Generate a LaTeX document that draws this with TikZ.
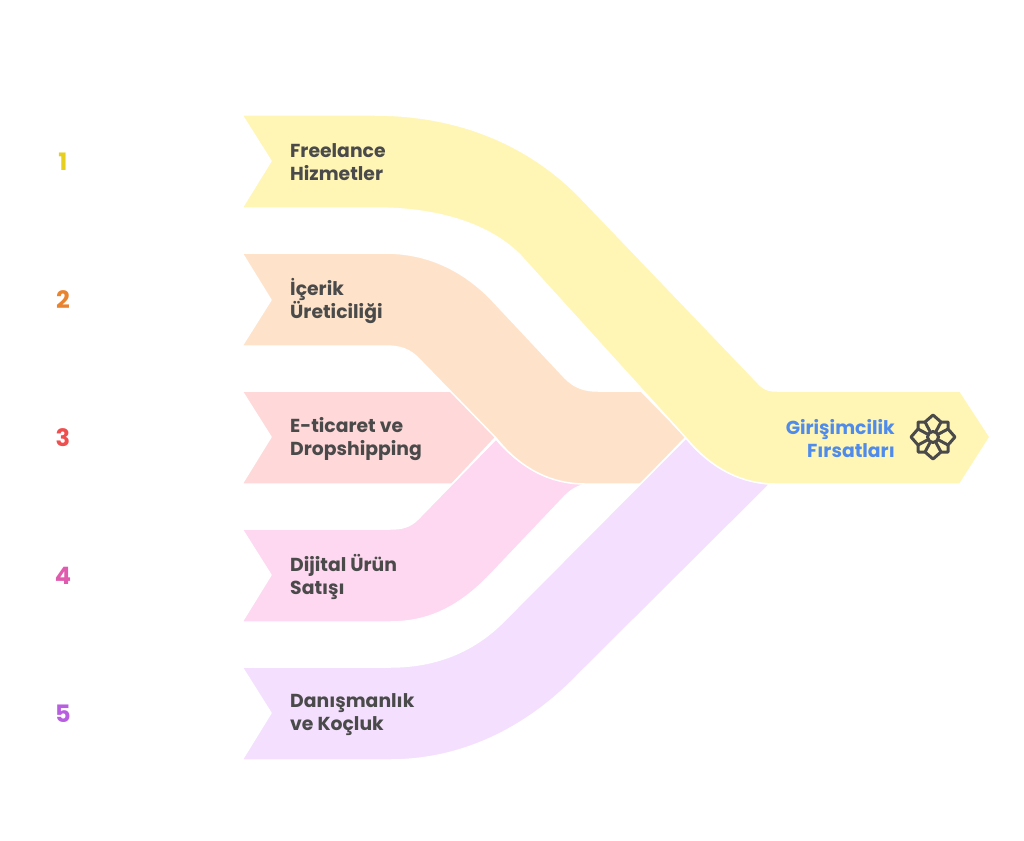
\documentclass[tikz,border=0pt]{standalone}
\usepackage{fontspec}
\setmainfont{Poppins}
\usetikzlibrary{positioning}
\definecolor{bandyellow}{HTML}{FFF6B6}
\definecolor{bandpeach}{HTML}{FEE3CA}
\definecolor{bandred}{HTML}{FFD9D9}
\definecolor{bandpink}{HTML}{FED7F0}
\definecolor{bandpurple}{HTML}{F4E0FE}
\definecolor{textgrey}{HTML}{4A4A4A}
\definecolor{textblue}{HTML}{4F8BEA}
\definecolor{numyellow}{HTML}{E6CF1E}
\definecolor{numorange}{HTML}{E8832E}
\definecolor{numred}{HTML}{EE4F4F}
\definecolor{numpink}{HTML}{E05AAE}
\definecolor{numpurple}{HTML}{B85EE0}
\tikzset{bandlabel/.style={anchor=west, align=left, inner sep=0pt, text=textgrey, font=\fontsize{18.8}{23}\selectfont\bfseries},
  numlabel/.style={inner sep=0pt, font=\fontsize{24}{26}\selectfont\bfseries},
  bandshape/.style={draw=white, line width=1.5pt, line join=round},
  rosette/.style={draw=textgrey, line width=3pt, line join=round},}

\begin{document}
\begin{tikzpicture}[x=1pt, y=-1pt]
\useasboundingbox (0,0) rectangle (1024,840);
% bands
\path[bandshape, fill=bandred] (242,391) -- (452,391) -- (496,437) -- (452,484) -- (242,484) -- (271,437) -- cycle;
\path[bandshape, fill=bandpink] (242,529) -- (390,529) .. controls (402,529) and (410,527) .. (418,519) -- (496,439) .. controls (520,468) and (550,481) .. (587,484) .. controls (578,486) and (572,489) .. (565,496) -- (490,575) .. controls (460,606) and (430,622) .. (390,622) -- (242,622) -- (271,575) -- cycle;
\path[bandshape, fill=bandpeach] (242,253) -- (385,253) .. controls (425,253) and (460,268) .. (490,298) -- (565,378) .. controls (575,388) and (585,391) .. (598,391) -- (641,391) -- (686,437) -- (641,484) -- (585,484) .. controls (550,484) and (520,468) .. (496,438) -- (420,360) .. controls (410,349) and (400,346) .. (385,346) -- (242,346) -- (271,300) -- cycle;
\path[bandshape, fill=bandpurple] (242,667) -- (390,667) .. controls (435,667) and (473,652) .. (503,622) -- (686,438) .. controls (710,467) and (738,481) .. (770,484) -- (578,675) .. controls (525,730) and (460,760) .. (390,760) -- (242,760) -- (271,713) -- cycle;
\path[bandshape, fill=bandyellow] (242,115) -- (375,115) .. controls (455,115) and (525,142) .. (578,195) -- (760,385) .. controls (765,390) and (770,391) .. (777,391) -- (960,391) -- (990,437) -- (960,484) -- (775,484) .. controls (740,484) and (710,467) .. (686,438) -- (520,255) .. controls (490,225) and (440,208) .. (375,208) -- (242,208) -- (271,161) -- cycle;
% numbers
\node[numlabel, text=numyellow] (num1) at (63,162) {1};
\node[numlabel, text=numorange] (num2) at (63,300) {2};
\node[numlabel, text=numred] (num3) at (63,438) {3};
\node[numlabel, text=numpink] (num4) at (63,576) {4};
\node[numlabel, text=numpurple] (num5) at (63,714) {5};
% labels
\node[bandlabel] (freelance) at (290,162) {Freelance\\Hizmetler};
\node[bandlabel] (icerik) at (290,301) {İçerik\\Üreticiliği};
\node[bandlabel] (eticaret) at (290,439) {E-ticaret ve\\Dropshipping};
\node[bandlabel] (dijital) at (290,577) {Dijital Ürün\\Satışı};
\node[bandlabel] (danisman) at (290,715) {Danışmanlık\\ve Koçluk};
\node[bandlabel, anchor=east, align=right, text=textblue] (girisim) at (895,439) {Girişimcilik\\Fırsatları};
% rosette
\coordinate (rose) at (933,437);
\foreach \px/\py in {8/15,15/8,15/-8,8/-15,-8/-15,-15/-8,-15/8,-8/15} {
  \draw[rosette] (rose) -- ++(\px,\py);
}
\draw[rosette] (rose) ++(0,22) -- ++(-8,-7) -- ++(-7,0) -- ++(0,-7) -- ++(-7,-8) -- ++(7,-8) -- ++(0,-7) -- ++(7,0) -- ++(8,-7) -- ++(8,7) -- ++(7,0) -- ++(0,7) -- ++(7,8) -- ++(-7,8) -- ++(0,7) -- ++(-7,0) -- cycle;
\node[circle, rosette, fill=bandyellow, minimum size=11pt, inner sep=0pt] (rosecore) at (rose) {};
\end{tikzpicture}
\end{document}
